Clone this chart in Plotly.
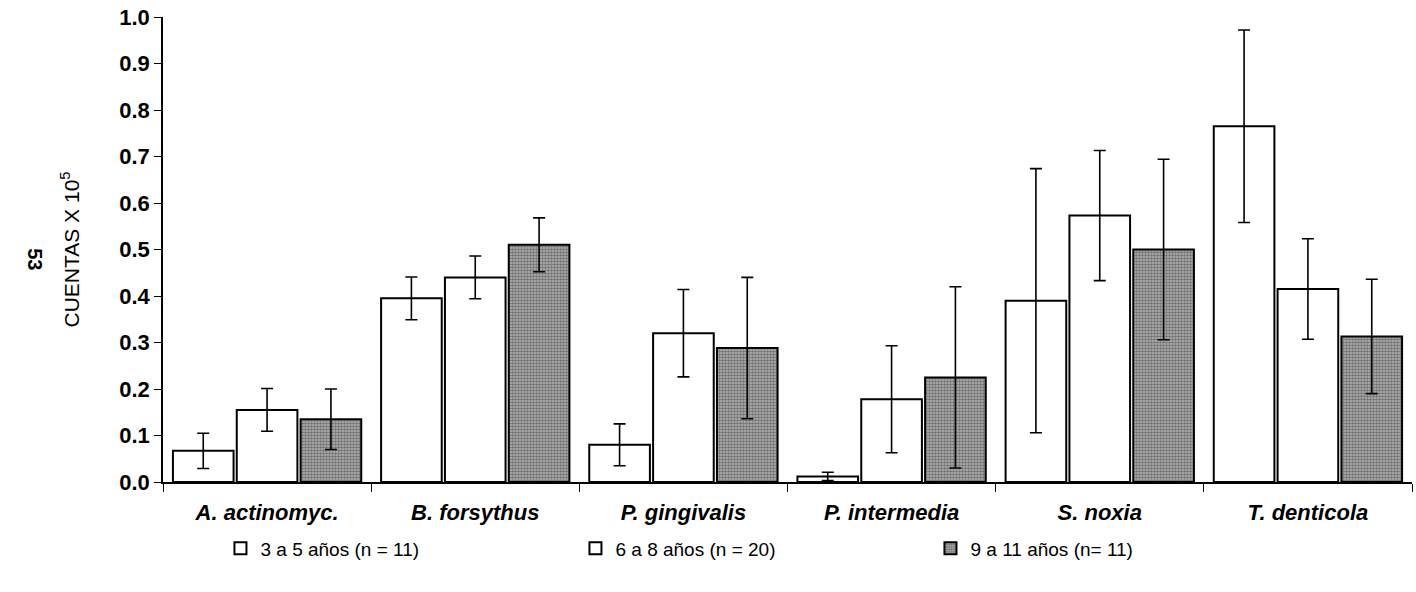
import plotly.graph_objects as go

categories = ["A. actinomyc.", "B. forsythus", "P. gingivalis", "P. intermedia", "S. noxia", "T. denticola"]
series_names = ["3 a 5 años (n = 11)", "6 a 8 años (n = 20)", "9 a 11 años (n= 11)"]
vals_3_5 = [0.067, 0.395, 0.080, 0.012, 0.390, 0.765]
err_3_5 = [0.038, 0.046, 0.045, 0.009, 0.284, 0.207]
vals_6_8 = [0.155, 0.440, 0.320, 0.178, 0.573, 0.415]
err_6_8 = [0.046, 0.046, 0.094, 0.115, 0.140, 0.108]
vals_9_11 = [0.135, 0.510, 0.288, 0.225, 0.500, 0.313]
err_9_11 = [0.065, 0.058, 0.152, 0.195, 0.194, 0.123]
y_ticks = [0.0, 0.1, 0.2, 0.3, 0.4, 0.5, 0.6, 0.7, 0.8, 0.9, 1.0]

FONT = "Liberation Sans, Arial, sans-serif"

fig = go.Figure()
data = [(vals_3_5, err_3_5, "white", None),
        (vals_6_8, err_6_8, "white", None),
        (vals_9_11, err_9_11, "#8f8f8f", dict(shape=".", fgcolor="#2e2e2e", bgcolor="#b5b5b5", size=3, solidity=0.55))]
for name, (v, e, col, pat) in zip(series_names, data):
    marker = dict(color=col, line=dict(color="black", width=2))
    if pat:
        marker["pattern"] = pat
    fig.add_trace(go.Bar(
        x=categories, y=v, name=name, marker=marker,
        error_y=dict(type="data", array=e, visible=True, color="black", thickness=1.6, width=6),
    ))

fig.update_layout(
    width=1416, height=592,
    barmode="group", bargap=0.08, bargroupgap=0.05,
    plot_bgcolor="white", paper_bgcolor="white",
    margin=dict(l=163, r=4, t=17, b=110, autoexpand=False),
    font=dict(family=FONT, color="black"),
    showlegend=True,
    legend=dict(orientation="h", x=0.046, y=-0.102, xanchor="left", yanchor="top",
                entrywidth=310, entrywidthmode="pixels",
                font=dict(size=19, family=FONT), itemwidth=30, tracegroupgap=0),
)
fig.update_yaxes(range=[0, 1.0], tickvals=y_ticks, tickformat=".1f",
                 showgrid=False, zeroline=False, showline=True, linecolor="black", linewidth=1.5,
                 ticks="outside", ticklen=7, tickcolor="black",
                 tickfont=dict(size=22, family=FONT, weight="bold"),
                 title=dict(text="CUENTAS X 10<sup>5</sup>", font=dict(size=21, family=FONT), standoff=34))
fig.update_xaxes(showgrid=False, showline=True, linecolor="black", linewidth=1.5,
                 ticks="outside", ticklen=8, tickcolor="black", tickson="boundaries",
                 ticklabelstandoff=10,
                 tickfont=dict(size=22, family=FONT, weight="bold", style="italic"))
fig.add_annotation(text="53", xref="paper", yref="paper", x=-0.102, y=0.48,
                   xanchor="center", yanchor="middle",
                   textangle=90, showarrow=False, font=dict(size=20, family=FONT, weight="bold"))

fig.write_html("out.html")
